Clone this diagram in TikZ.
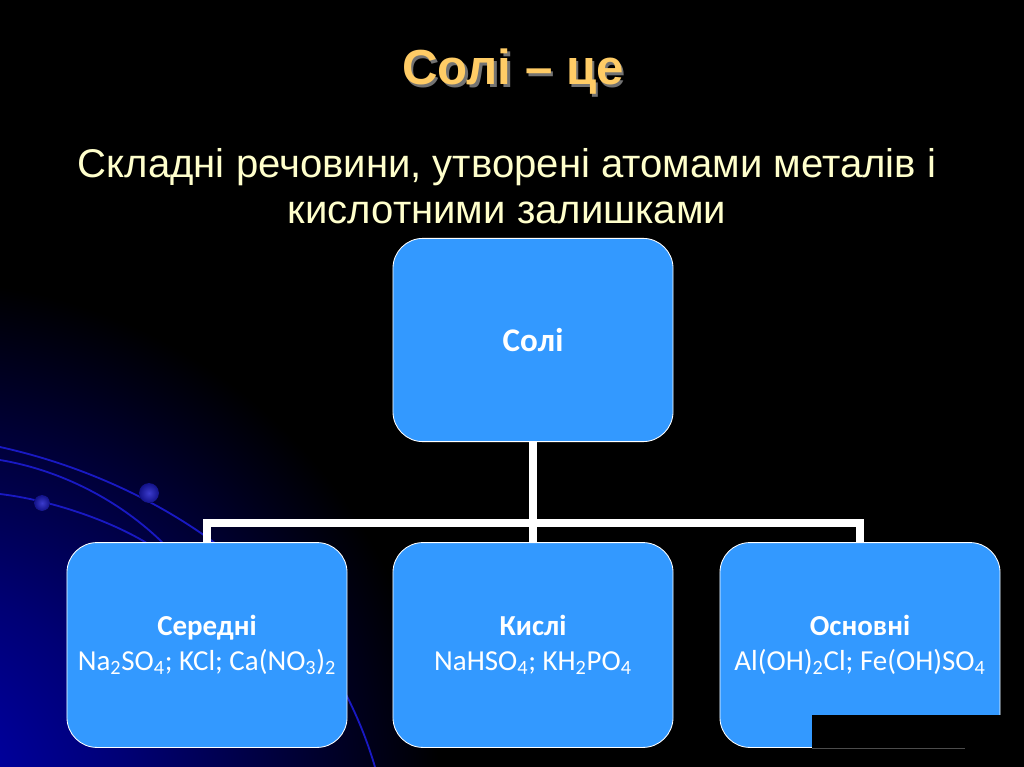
\documentclass[tikz,border=0pt]{standalone}
\usepackage{fontspec}
\setmainfont{Liberation Sans}
\newfontfamily\boxfont{Carlito}
\usetikzlibrary{calc,positioning}
\definecolor{boxblue}{RGB}{51,153,255}
\definecolor{titlegold}{RGB}{255,204,102}
\definecolor{subcream}{RGB}{255,255,204}
\definecolor{swirlblue}{RGB}{25,25,195}
\definecolor{glowblue}{RGB}{0,0,180}
\pgfdeclareradialshading{glow}{\pgfpoint{0bp}{0bp}}{color(0bp)=(glowblue); color(10bp)=(glowblue!65!black); color(25bp)=(black); color(50bp)=(black)}
\newcommand{\shadowtext}[1]{\makebox[0pt][l]{\hspace{1.8pt}\raisebox{-1.8pt}{\textcolor{black!55}{#1}}}#1}

\begin{document}
\begin{tikzpicture}[x=0.025cm,y=-0.025cm,
  box/.style={draw=white,line width=0.6pt,fill=boxblue,rounded corners=0.75cm,
    minimum width=7cm,minimum height=5.12cm,align=center,text=white,inner sep=0pt,
    font=\boxfont\fontsize{20.6}{24.9}\selectfont},
  lnk/.style={white,line width=5pt},
  swirl/.style={swirlblue,line width=1.3pt}]
  \useasboundingbox (0,0) rectangle (1024,767);
  \fill[black] (0,0) rectangle (1024,767);
  \begin{scope}
    \clip (0,0) rectangle (1024,767);
    \shade[shading=glow] (-80,800) circle[radius=13cm];
  \end{scope}
  \draw[swirl] (0,447) .. controls (150,480) and (320,580) .. (375,767);
  \draw[swirl] (0,460) .. controls (60,470) and (120,500) .. (165,545);
  \draw[swirl] (0,494) .. controls (50,500) and (110,520) .. (150,545);
  \fill[inner color=swirlblue!85!white,outer color=swirlblue!70!black] (149,493) circle (10);
  \fill[inner color=swirlblue!85!white,outer color=swirlblue!70!black] (42,503) circle (8);

  \node[anchor=base,text=titlegold,font=\bfseries\fontsize{35}{40}\selectfont] (title) at (513,85) {\shadowtext{Солі – це}};
  \node[text=subcream,align=center,font=\fontsize{28.5}{32.7}\selectfont] (def) at (507,186)
    {Складні речовини, утворені атомами металів і\\кислотними залишками};

  \node[box,minimum height=5.08cm,font=\boxfont\bfseries\fontsize{23.5}{28}\selectfont] (soli) at (533,340) {Солі};
  \node[box] (sered) at (207,645) {\textbf{Середні}\\Na\textsubscript{2}SO\textsubscript{4}; KCl; Ca(NO\textsubscript{3})\textsubscript{2}};
  \node[box] (kysl) at (533,645) {\textbf{Кислі}\\NaHSO\textsubscript{4}; KH\textsubscript{2}PO\textsubscript{4}};
  \node[box] (osn) at (860,645) {\textbf{Основні}\\Al(OH)\textsubscript{2}Cl; Fe(OH)SO\textsubscript{4}};

  \coordinate (bus) at (533,523);
  \draw[lnk] (soli) -- (bus) -- (kysl);
  \draw[lnk] (sered.north) |- (bus) -| (osn.north);

  \fill[black] (812,715) rectangle (1001.5,748);
  \draw[black!70,line width=0.6pt] (812,748.5) -- (965,748.5);
\end{tikzpicture}
\end{document}
